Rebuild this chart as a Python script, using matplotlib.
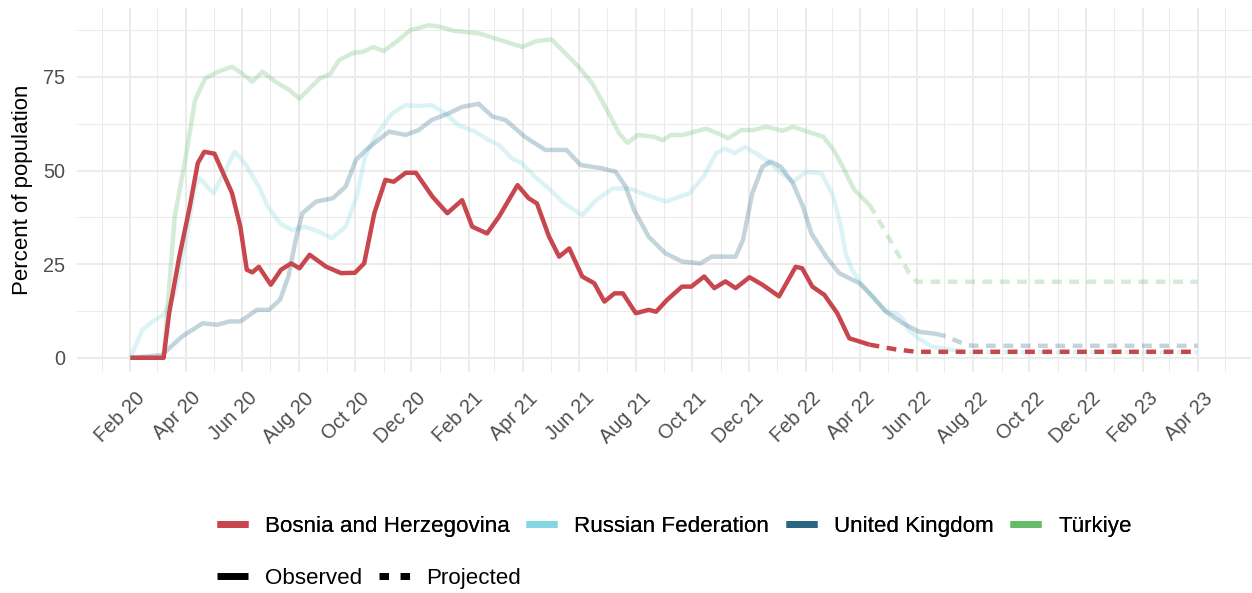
import numpy as np
import pandas as pd
import matplotlib
matplotlib.use("Agg")
import matplotlib.pyplot as plt
import matplotlib.dates as mdates
import matplotlib.transforms as mtransforms
from matplotlib.lines import Line2D

plt.rcParams['font.family'] = ['Liberation Sans', 'DejaVu Sans']

#   Data (percent of population)
bih_obs_dates = ["2020-02-01", "2020-03-08", "2020-03-14", "2020-03-25", "2020-04-05", "2020-04-14",
                 "2020-04-21", "2020-05-02", "2020-05-21", "2020-05-30", "2020-06-06", "2020-06-12",
                 "2020-06-19", "2020-07-02", "2020-07-13", "2020-07-24", "2020-08-02", "2020-08-13",
                 "2020-08-31", "2020-09-16", "2020-10-01", "2020-10-11", "2020-10-22", "2020-11-03",
                 "2020-11-12", "2020-11-25", "2020-12-06", "2020-12-24", "2021-01-09", "2021-01-25",
                 "2021-02-05", "2021-02-21", "2021-03-06", "2021-03-26", "2021-04-07", "2021-04-16",
                 "2021-04-29", "2021-05-10", "2021-05-21", "2021-06-04", "2021-06-17", "2021-06-28",
                 "2021-07-09", "2021-07-18", "2021-08-01", "2021-08-15", "2021-08-23", "2021-09-04",
                 "2021-09-20", "2021-09-30", "2021-10-14", "2021-10-25", "2021-11-06", "2021-11-17",
                 "2021-12-02", "2021-12-16", "2022-01-03", "2022-01-21", "2022-01-28", "2022-02-08",
                 "2022-02-21", "2022-03-07", "2022-03-20", "2022-04-11"]
bih_obs_vals = [0, 0, 12, 27, 40, 52,
                55, 54.5, 44, 35, 23.5, 22.8,
                24.3, 19.5, 23.5, 25.2, 23.9, 27.5,
                24.3, 22.6, 22.7, 25.2, 38.6, 47.5,
                47, 49.4, 49.4, 43, 38.6, 42.1,
                35, 33.2, 37.7, 46.1, 42.6, 41.2,
                32.4, 27, 29.2, 21.7, 19.9, 15,
                17.2, 17.2, 11.9, 12.8, 12.3, 15.5,
                19, 19, 21.7, 18.6, 20.4, 18.6,
                21.5, 19.5, 16.4, 24.3, 23.9, 19,
                16.8, 11.9, 5.2, 3.5]
bih_proj_dates = ["2022-04-11", "2022-05-10", "2022-06-01", "2023-04-01"]
bih_proj_vals = [3.5, 2.2, 1.6, 1.6]

rus_obs_dates = ["2020-02-01", "2020-02-14", "2020-02-25", "2020-03-08", "2020-03-20", "2020-04-01",
                 "2020-04-11", "2020-04-16", "2020-05-01", "2020-05-12", "2020-05-24", "2020-06-04",
                 "2020-06-19", "2020-06-29", "2020-07-12", "2020-07-25", "2020-08-08", "2020-08-23",
                 "2020-09-06", "2020-09-21", "2020-10-03", "2020-10-12", "2020-10-23", "2020-11-10",
                 "2020-11-25", "2020-12-09", "2020-12-23", "2021-01-07", "2021-01-21", "2021-02-08",
                 "2021-02-23", "2021-03-06", "2021-03-20", "2021-03-31", "2021-04-14", "2021-04-29",
                 "2021-05-13", "2021-05-26", "2021-06-04", "2021-06-19", "2021-07-07", "2021-07-25",
                 "2021-08-12", "2021-09-03", "2021-09-17", "2021-09-28", "2021-10-13", "2021-10-27",
                 "2021-11-05", "2021-11-16", "2021-11-27", "2021-12-09", "2021-12-20", "2022-01-04",
                 "2022-01-18", "2022-02-02", "2022-02-18", "2022-03-02", "2022-03-11", "2022-03-16",
                 "2022-03-23", "2022-04-03", "2022-04-17", "2022-04-28", "2022-05-10", "2022-05-18",
                 "2022-05-23", "2022-06-03", "2022-06-17", "2022-07-09"]
rus_obs_vals = [0, 7.5, 9.7, 11.5, 17.2, 31.5,
                45.7, 47.9, 43.9, 49.2, 55, 51.9,
                45.7, 40.3, 35.9, 34.1, 35, 33.7,
                31.9, 35, 43, 53.7, 59, 65.2,
                67.5, 67.2, 67.5, 65.2, 62.1, 60.4,
                58.1, 56.8, 53.2, 51.9, 48.3, 45.2,
                41.7, 39.5, 38.1, 42.1, 45.2, 45.2,
                43.5, 41.7, 43, 43.9, 48.3, 54.6,
                55.9, 54.6, 56.3, 54.6, 52.8, 49.7,
                47, 49.7, 49.2, 43.5, 35, 27.9,
                23.5, 19.5, 15.5, 12.3, 11.9, 10.1,
                7.5, 5.2, 3, 2.1]
rus_proj_dates = ["2022-07-09", "2022-08-01", "2023-04-01"]
rus_proj_vals = [2.1, 1.5, 1.5]

gbr_obs_dates = ["2020-02-01", "2020-03-06", "2020-03-28", "2020-04-19", "2020-05-05", "2020-05-18",
                 "2020-05-30", "2020-06-17", "2020-06-30", "2020-07-12", "2020-07-21", "2020-07-29",
                 "2020-08-05", "2020-08-20", "2020-09-07", "2020-09-21", "2020-10-02", "2020-10-13",
                 "2020-10-24", "2020-11-07", "2020-11-25", "2020-12-09", "2020-12-23", "2021-01-10",
                 "2021-01-25", "2021-02-12", "2021-02-27", "2021-03-13", "2021-04-03", "2021-04-25",
                 "2021-05-18", "2021-06-02", "2021-06-25", "2021-07-10", "2021-07-21", "2021-07-30",
                 "2021-08-15", "2021-09-02", "2021-09-20", "2021-10-10", "2021-10-22", "2021-11-17",
                 "2021-11-25", "2021-12-05", "2021-12-16", "2021-12-25", "2022-01-05", "2022-01-18",
                 "2022-01-29", "2022-02-07", "2022-02-23", "2022-03-09", "2022-03-31", "2022-04-11",
                 "2022-04-29", "2022-05-17", "2022-06-04", "2022-06-22"]
gbr_obs_vals = [0, 0.7, 5.7, 9.2, 8.8, 9.7,
                9.7, 12.8, 12.8, 15.5, 21.7, 31.5,
                38.6, 41.7, 42.6, 45.7, 52.8, 55.5,
                57.7, 60.4, 59.5, 60.8, 63.5, 65.2,
                67, 67.8, 64.4, 63.5, 59, 55.5,
                55.5, 51.5, 50.6, 49.7, 45.7, 39.5,
                32.3, 27.9, 25.7, 25.2, 27, 27,
                31.5, 43.9, 51, 52.4, 51, 46.6,
                40.3, 33.2, 27, 22.6, 19.9, 17.2,
                12.3, 9.2, 6.9, 6.4]
gbr_proj_dates = ["2022-06-22", "2022-07-03", "2022-07-24", "2022-08-01", "2023-04-01"]
gbr_proj_vals = [6.4, 5.7, 3.5, 3.2, 3.2]

tur_obs_dates = ["2020-02-01", "2020-03-08", "2020-03-20", "2020-04-01", "2020-04-11", "2020-04-22",
                 "2020-05-06", "2020-05-21", "2020-06-01", "2020-06-12", "2020-06-23", "2020-07-07",
                 "2020-07-22", "2020-08-02", "2020-08-13", "2020-08-24", "2020-09-04", "2020-09-14",
                 "2020-09-29", "2020-10-10", "2020-10-21", "2020-11-01", "2020-11-15", "2020-11-30",
                 "2020-12-20", "2021-01-01", "2021-01-16", "2021-02-06", "2021-02-13", "2021-03-13",
                 "2021-03-31", "2021-04-16", "2021-05-02", "2021-05-17", "2021-05-31", "2021-06-15",
                 "2021-06-29", "2021-07-14", "2021-07-23", "2021-08-03", "2021-08-21", "2021-08-30",
                 "2021-09-08", "2021-09-21", "2021-10-16", "2021-10-29", "2021-11-09", "2021-11-23",
                 "2021-12-06", "2021-12-20", "2022-01-07", "2022-01-18", "2022-01-31", "2022-02-20",
                 "2022-03-03", "2022-03-13", "2022-03-25", "2022-04-11"]
tur_obs_vals = [0, 0, 37.7, 53.7, 68.8, 74.6,
                76.4, 77.7, 75.9, 73.7, 76.4, 73.7,
                71.5, 69.2, 71.9, 74.6, 75.7, 79.5,
                81.4, 81.7, 83, 81.9, 84.4, 87.5,
                88.8, 88.4, 87.3, 86.8, 86.6, 84.4,
                83, 84.6, 85, 81.2, 77.7, 73.2,
                67, 59.9, 57.4, 59.5, 59, 58.1,
                59.5, 59.5, 61.2, 59.9, 58.6, 60.8,
                60.8, 61.7, 60.6, 61.7, 60.6, 59,
                55.5, 51, 45, 40.8]
tur_proj_dates = ["2022-04-11", "2022-04-25", "2022-05-09", "2022-05-24", "2022-06-01", "2023-04-01"]
tur_proj_vals = [40.8, 35, 28.8, 22.6, 20.3, 20.3]

countries = ["Bosnia and Herzegovina", "Russian Federation", "United Kingdom", "Türkiye"]
colors = ["#C8474F", "#84D7E1", "#2B6685", "#66BB6A"]

series = [
    (bih_obs_dates, bih_obs_vals, bih_proj_dates, bih_proj_vals),
    (rus_obs_dates, rus_obs_vals, rus_proj_dates, rus_proj_vals),
    (gbr_obs_dates, gbr_obs_vals, gbr_proj_dates, gbr_proj_vals),
    (tur_obs_dates, tur_obs_vals, tur_proj_dates, tur_proj_vals),
]

#   Figure
fig = plt.figure(figsize=(12.52, 5.93), dpi=100)
ax = fig.add_axes([77 / 1252, 1 - 372 / 593, 1174 / 1252, 364 / 593])

lw = 3.2
dash = (2.2, 1.7)
# faded countries first, highlighted one last (on top)
for i in [1, 2, 3, 0]:
    od, ov, pd_, pv = series[i]
    alpha = 1.0 if i == 0 else 0.28
    ax.plot(pd.to_datetime(od), ov, color=colors[i], lw=lw, alpha=alpha,
            solid_capstyle="butt", solid_joinstyle="round", zorder=3 + (i == 0))
    ax.plot(pd.to_datetime(pd_), pv, color=colors[i], lw=lw, alpha=alpha,
            dashes=dash, dash_capstyle="butt", zorder=3 + (i == 0))

#   Axes
x0 = pd.Timestamp("2020-02-01")
x1 = pd.Timestamp("2023-04-01")
pad = (x1 - x0) * 0.05
ax.set_xlim(x0 - pad, x1 + pad)
ax.set_ylim(-3.8, 93.4)

ax.xaxis.set_major_locator(mdates.MonthLocator(bymonth=(2, 4, 6, 8, 10, 12)))
ax.xaxis.set_minor_locator(mdates.MonthLocator(bymonth=(1, 3, 5, 7, 9, 11)))
ax.xaxis.set_major_formatter(mdates.DateFormatter("%b %y"))
ax.set_yticks([0, 25, 50, 75])
ax.set_yticks([12.5, 37.5, 62.5, 87.5], minor=True)

ax.grid(which="major", color="#EBEBEB", lw=1.5)
ax.grid(which="minor", color="#EBEBEB", lw=0.75)
ax.set_axisbelow(True)
for s in ax.spines.values():
    s.set_visible(False)

ax.tick_params(which="both", length=0)
ax.tick_params(axis="y", labelsize=14.3, labelcolor="#4D4D4D", pad=8.5)
ax.tick_params(axis="x", labelsize=14.3, labelcolor="#4D4D4D", pad=12)
shift = mtransforms.ScaledTranslation(5 / 100, 0, fig.dpi_scale_trans)
for lab in ax.get_xticklabels():
    lab.set_rotation(45)
    lab.set_ha("right")
    lab.set_va("top")
    lab.set_rotation_mode("anchor")
    lab.set_transform(lab.get_transform() + shift)

ax.set_ylabel("Percent of population", fontsize=16, color="black", labelpad=7)

#   Legends
h1 = [Line2D([], [], color=c, lw=5, solid_capstyle="butt") for c in colors]
leg1 = fig.legend(h1, countries, loc="center left", bbox_to_anchor=(217 / 1252, 1 - 526.5 / 593),
                  ncol=4, frameon=False, fontsize=16.1, handlelength=1.38, handletextpad=0.76,
                  columnspacing=0.75, borderpad=0, borderaxespad=0)
h2 = [Line2D([], [], color="black", lw=5, solid_capstyle="butt"),
      Line2D([], [], color="black", lw=5, dashes=(1.37, 1.66), dash_capstyle="butt")]
leg2 = fig.legend(h2, ["Observed", "Projected"], loc="center left",
                  bbox_to_anchor=(217 / 1252, 1 - 578.5 / 593), ncol=2, frameon=False,
                  fontsize=16.1, handlelength=1.38, handletextpad=0.76, columnspacing=0.75,
                  borderpad=0, borderaxespad=0)
fig.add_artist(leg1)

fig.savefig("out.png", dpi=100)
